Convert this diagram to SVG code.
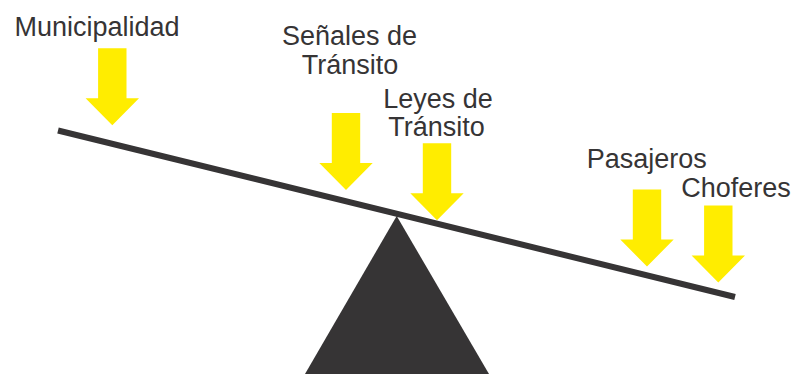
<svg xmlns="http://www.w3.org/2000/svg" width="792" height="374" viewBox="0 0 792 374">
<style>
.lbl{font-family:"Liberation Sans","Open Sans",Arial,sans-serif;font-size:27px;fill:#363435;text-anchor:middle}
.arrow{fill:#FFED00}
.beam{stroke:#363435;stroke-width:6;fill:none}
</style>
<defs>
<path id="arr" d="M-14.2,0 H14.2 V50 H26.7 L0,77 L-26.7,50 H-14.2 Z"/>
</defs>
<rect width="792" height="374" fill="#ffffff"/>
<g id="fulcrum">
<polygon points="396.7,216 305,374 489,374" fill="#363435"/>
</g>
<g id="connectors">
<line class="beam" x1="58" y1="130.5" x2="735" y2="297"/>
</g>
<g id="municipalidad">
<text class="lbl" x="97" y="36">Municipalidad</text>
<use href="#arr" class="arrow" x="112.3" y="48.3"/>
</g>
<g id="senales">
<text class="lbl" x="349.5" y="45">Señales de</text>
<text class="lbl" x="350" y="73.5">Tránsito</text>
<use href="#arr" class="arrow" x="346" y="113"/>
</g>
<g id="leyes">
<text class="lbl" x="438" y="107.5">Leyes de</text>
<text class="lbl" x="436.5" y="136">Tránsito</text>
<use href="#arr" class="arrow" x="437" y="143.3"/>
</g>
<g id="pasajeros">
<text class="lbl" x="646.7" y="168.3">Pasajeros</text>
<use href="#arr" class="arrow" x="647" y="189.5"/>
</g>
<g id="choferes">
<text class="lbl" x="736" y="197.3">Choferes</text>
<use href="#arr" class="arrow" x="718.3" y="205.5"/>
</g>
</svg>
